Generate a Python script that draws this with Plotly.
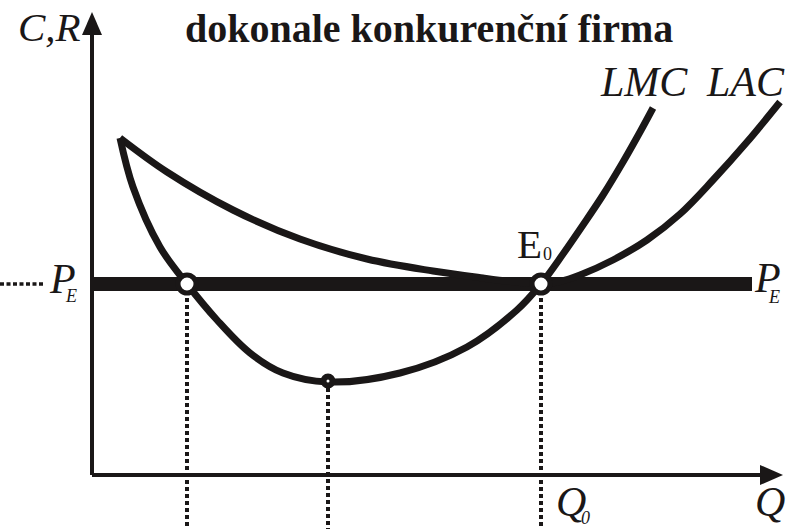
import plotly.graph_objects as go

# ---- data (Q = quantity units, C = cost/revenue units; origin at axes crossing) ----
LAC_Q = [28, 75, 141, 208, 275, 341, 391, 428, 449, 468, 488, 521, 555, 588, 621, 655, 688]
LAC_C = [337, 303, 265, 236, 216, 204, 197, 192.5, 191, 193.5, 200, 215, 235, 261, 295, 333, 373]

LMC_Q = [28, 41, 68, 95, 125, 158, 191, 236, 308, 375, 425, 449, 471, 491, 511, 531, 548, 561]
LMC_C = [337, 288, 228, 191, 155, 122, 102, 93, 102, 128, 165, 191, 221, 250, 280, 313, 343, 367]

P_E = 191            # equilibrium price
PE_Q_END = 660       # right end of the price line
Q1 = 95              # first LMC = P_E crossing
Q_MIN = 236          # LMC minimum
C_MIN = 94
Q0 = 449             # equilibrium quantity (E0)

X_MIN, X_MAX = -92, 698
Y_MIN, Y_MAX = -54, 475
AX_X_TIP, AX_Y_TIP = 691, 463

FONT = "Liberation Serif"
BLACK = "#1a1717"

fig = go.Figure()

# price line P_E
fig.add_trace(go.Scatter(x=[0, PE_Q_END], y=[P_E, P_E], mode="lines",
                         line=dict(color=BLACK, width=14), hoverinfo="skip"))
# dotted guide left of P_E label
fig.add_trace(go.Scatter(x=[X_MIN, X_MIN + 45], y=[P_E, P_E], mode="lines",
                         line=dict(color=BLACK, width=3.5, dash="4px,2.5px"), hoverinfo="skip"))
# vertical dotted guides
for qv, cv in [(Q1, P_E), (Q_MIN, C_MIN), (Q0, P_E)]:
    fig.add_trace(go.Scatter(x=[qv, qv], y=[cv, Y_MIN], mode="lines",
                             line=dict(color=BLACK, width=4, dash="4px,3px"), hoverinfo="skip"))

# curves
fig.add_trace(go.Scatter(x=LAC_Q, y=LAC_C, mode="lines",
                         line=dict(color=BLACK, width=7, shape="spline", smoothing=1.0),
                         hoverinfo="skip"))
fig.add_trace(go.Scatter(x=LMC_Q, y=LMC_C, mode="lines",
                         line=dict(color=BLACK, width=7, shape="spline", smoothing=1.0),
                         hoverinfo="skip"))

# axes (lines)
fig.add_trace(go.Scatter(x=[0, 0], y=[0, AX_Y_TIP - 20], mode="lines",
                         line=dict(color=BLACK, width=4), hoverinfo="skip"))
fig.add_trace(go.Scatter(x=[0, AX_X_TIP - 20], y=[0, 0], mode="lines",
                         line=dict(color=BLACK, width=4), hoverinfo="skip"))

# points
fig.add_trace(go.Scatter(x=[Q1, Q0], y=[P_E, P_E], mode="markers",
                         marker=dict(size=18, color="white", line=dict(color=BLACK, width=5)),
                         hoverinfo="skip"))
fig.add_trace(go.Scatter(x=[Q_MIN], y=[C_MIN], mode="markers",
                         marker=dict(size=9, color="white", line=dict(color=BLACK, width=6)),
                         hoverinfo="skip"))

shapes = [
    dict(type="path", xref="x", yref="y",
         path=f"M {-10} {AX_Y_TIP - 23} L 0 {AX_Y_TIP} L 10 {AX_Y_TIP - 23} Z",
         fillcolor=BLACK, line=dict(width=0)),
    dict(type="path", xref="x", yref="y",
         path=f"M {AX_X_TIP - 23} 10 L {AX_X_TIP} 0 L {AX_X_TIP - 23} -10 Z",
         fillcolor=BLACK, line=dict(width=0)),
]

def ann(text, x, y, size=40, italic=False, bold=False, xanchor="center"):
    t = text
    if bold:
        t = f"<b>{t}</b>"
    if italic:
        t = f"<i>{t}</i>"
    return dict(text=t, x=x, y=y, xref="x", yref="y", showarrow=False,
                xanchor=xanchor, yanchor="middle",
                font=dict(family=FONT, size=size, color=BLACK))

annotations = [
    ann("dokonale konkurenční firma", 337, 447, size=40, bold=True),
    ann("C,R", -43, 448, size=41, italic=True),
    ann("LMC", 552, 393, size=42, italic=True),
    ann("LAC", 653, 393, size=42, italic=True),
    ann("P", -29.5, 196, size=42, italic=True),
    ann("E", -21, 179, size=18, italic=True),
    ann("P", 675.5, 197, size=42, italic=True),
    ann("E", 682, 178, size=18, italic=True),
    ann("E", 437.5, 231, size=41),
    ann("0", 455.5, 221, size=18),
    ann("Q", 479, -27, size=42, italic=True),
    ann("0", 493, -43, size=18, italic=True),
    ann("Q", 678, -27, size=42, italic=True),
]

fig.update_layout(
    width=790, height=529,
    margin=dict(l=0, r=0, t=0, b=0),
    paper_bgcolor="white", plot_bgcolor="white",
    showlegend=False,
    xaxis=dict(range=[X_MIN, X_MAX], visible=False, fixedrange=True),
    yaxis=dict(range=[Y_MIN, Y_MAX], visible=False, fixedrange=True),
    shapes=shapes, annotations=annotations,
)

fig.write_html("out.html", config={"displayModeBar": False},
               post_script="document.body.style.margin='0';document.body.style.overflow='hidden';")
